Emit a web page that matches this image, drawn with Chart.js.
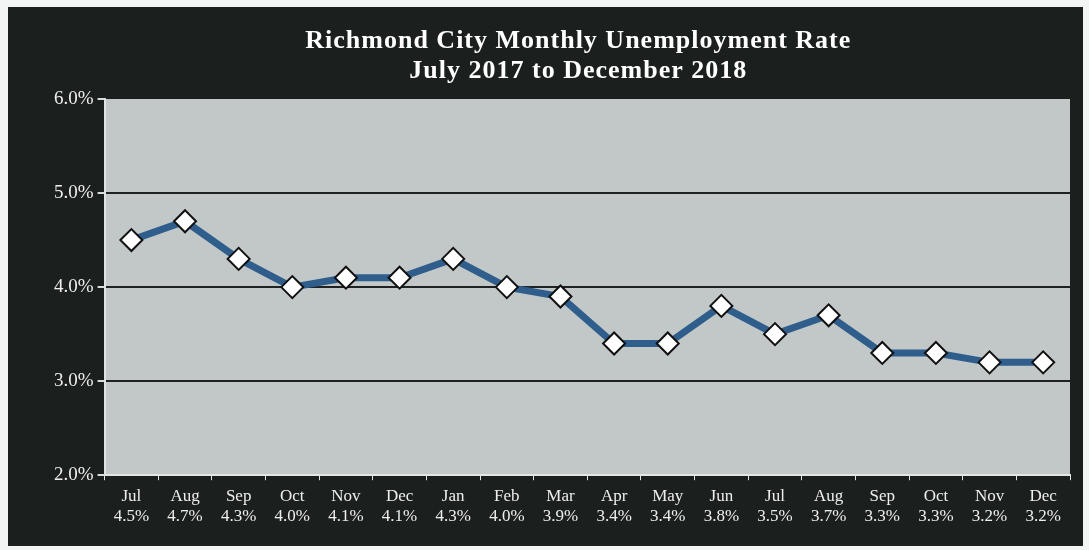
<!DOCTYPE html>
<html>
<head>
<meta charset="utf-8">
<script src="https://cdn.jsdelivr.net/npm/chart.js@4/dist/chart.umd.min.js"></script>
<style>
  body { margin: 0; background: #f3f5f4; }
  #box { position: absolute; left: 8px; top: 7px; width: 1075px; height: 539px; background: #1b201f; }
</style>
</head>
<body>
<div id="box"><canvas id="myChart" width="1075" height="539"></canvas></div>
<script>
var meses = ['Jul', 'Aug', 'Sep', 'Oct', 'Nov', 'Dec', 'Jan', 'Feb', 'Mar', 'Apr', 'May', 'Jun', 'Jul', 'Aug', 'Sep', 'Oct', 'Nov', 'Dec'];
var taxas = [4.5, 4.7, 4.3, 4.0, 4.1, 4.1, 4.3, 4.0, 3.9, 3.4, 3.4, 3.8, 3.5, 3.7, 3.3, 3.3, 3.2, 3.2];
var yTicks = [2, 3, 4, 5, 6];
var titulo = ['Richmond City Monthly Unemployment Rate', 'July 2017 to December 2018'];

var ctx = document.getElementById("myChart").getContext('2d');

// fundo cinza da area do grafico + titulo centrado na area
var fundoPlugin = {
    id: 'fundo',
    beforeDraw: function (chart) {
        var a = chart.chartArea;
        var c = chart.ctx;
        c.save();
        c.fillStyle = '#c2c7c7';
        c.fillRect(a.left, a.top, a.right - a.left, a.bottom - a.top);
        c.restore();
    },
    afterDraw: function (chart) {
        var a = chart.chartArea;
        var c = chart.ctx;
        var cx = (a.left + a.right) / 2 - 9;
        c.save();
        c.fillStyle = '#ffffff';
        c.font = 'bold 26px "Liberation Serif"';
        c.letterSpacing = '1px';
        c.textAlign = 'center';
        c.textBaseline = 'middle';
        c.fillText(titulo[0], cx, 34);
        c.fillText(titulo[1], cx, 64);
        c.restore();
    }
};

var grafico = new Chart(ctx, {
    type: 'line',
    data: {
        labels: meses,
        datasets: [{
            label: 'Unemployment Rate',
            data: taxas,
            borderColor: '#2f5d8c',
            borderWidth: 7,
            pointStyle: 'rectRot',
            pointRadius: 11,
            pointHoverRadius: 11,
            pointBackgroundColor: '#ffffff',
            pointBorderColor: '#111111',
            pointBorderWidth: 2,
            tension: 0
        }]
    },
    options: {
        responsive: false,
        animation: false,
        layout: {
            padding: { top: 92, right: 11, left: 42, bottom: 13 }
        },
        plugins: {
            legend: { display: false },
            tooltip: { enabled: false }
        },
        scales: {
            x: {
                offset: true,
                grid: {
                    offset: true,
                    drawOnChartArea: false,
                    drawTicks: true,
                    tickLength: 5,
                    tickColor: '#e4e6e6'
                },
                border: { color: '#e4e6e6', width: 2 },
                ticks: {
                    color: '#eeeeee',
                    font: { family: 'Liberation Serif', size: 17 },
                    maxRotation: 0,
                    autoSkip: false,
                    padding: 6,
                    callback: function (v, i) {
                        return [meses[i], taxas[i].toFixed(1) + '%'];
                    }
                }
            },
            y: {
                min: yTicks[0],
                max: yTicks[yTicks.length - 1],
                afterBuildTicks: function (axis) {
                    axis.ticks = yTicks.map(function (v) { return { value: v }; });
                },
                grid: {
                    color: function (c) {
                        var v = c.tick ? c.tick.value : 0;
                        return (v === 2 || v === 6) ? 'rgba(0,0,0,0)' : '#1e2222';
                    },
                    lineWidth: 2,
                    tickLength: 7,
                    tickColor: '#d8dada'
                },
                border: { color: '#dfe2e2', width: 2 },
                ticks: {
                    color: '#eeeeee',
                    font: { family: 'Liberation Serif', size: 19 },
                    padding: 4,
                    callback: function (v) {
                        return v.toFixed(1) + '%';
                    }
                }
            }
        }
    },
    plugins: [fundoPlugin]
});
</script>
</body>
</html>
